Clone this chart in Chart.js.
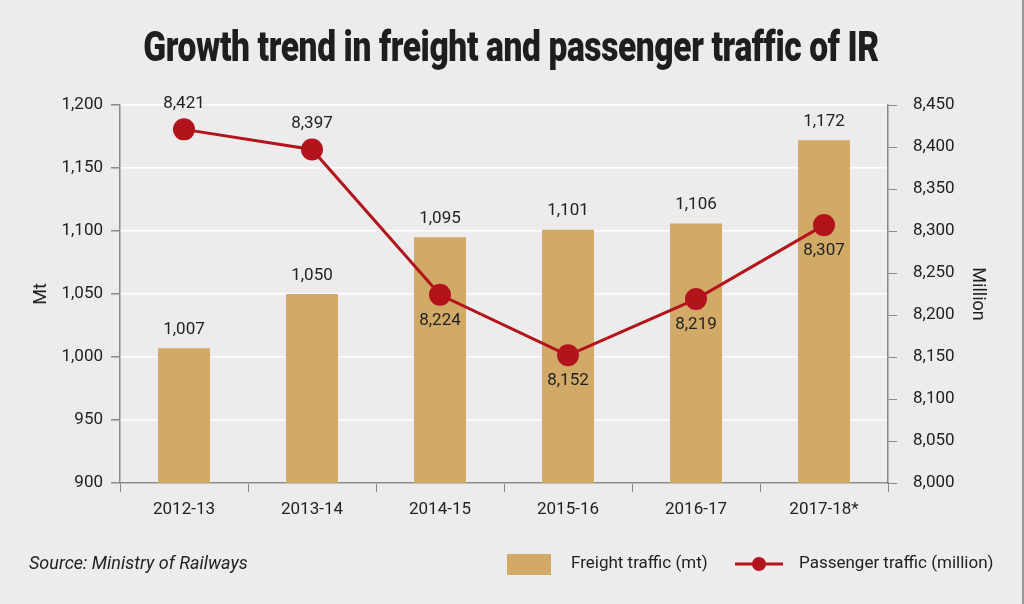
<!DOCTYPE html>
<html>
<head>
<meta charset="utf-8">
<script src="https://cdn.jsdelivr.net/npm/chart.js@4.4.1/dist/chart.umd.min.js"></script>
<style>
  html, body { margin: 0; padding: 0; background: #ececec; }
  #wrap { width: 1024px; height: 604px; position: relative; box-sizing: border-box; border-right: 2px solid #9a9a9a; }
  #title {
    position: absolute; left: 0; top: 21px; width: 1022px; margin: 0;
    text-align: center; font-family: Roboto, sans-serif; font-weight: 900;
    font-size: 43px; line-height: 50px; color: #1e1e1e; letter-spacing: -0.5px;
    transform: scaleX(0.78); transform-origin: 511px 0;
  }
</style>
</head>
<body>
<div id="wrap">
  <canvas id="trafficChart" width="1022" height="604"></canvas>
  <h1 id="title">Growth trend in freight and passenger traffic of IR</h1>
</div>
<script>
// Growth trend in freight and passenger traffic of IR
var years = ['2012-13', '2013-14', '2014-15', '2015-16', '2016-17', '2017-18*'];
var freight = [1007, 1050, 1095, 1101, 1106, 1172];      // mt
var passenger = [8421, 8397, 8224, 8152, 8219, 8307];    // million
var passengerLabelAbove = [true, true, false, false, false, false];

var FONT = "Roboto, sans-serif";
var BAR = '#d2aa68';
var RED = '#b3141c';
var AXIS = '#8a8a8a';

// value labels on bars and points
var valueLabels = {
    id: 'valueLabels',
    afterDatasetsDraw: function(chart) {
        var ctx = chart.ctx;
        ctx.save();
        ctx.font = '17px ' + FONT;
        ctx.fillStyle = '#222';
        ctx.textAlign = 'center';
        chart.getDatasetMeta(1).data.forEach(function(bar, i) {
            ctx.textBaseline = 'bottom';
            ctx.fillText(freight[i].toLocaleString('en-US'), bar.x, bar.y - 10);
        });
        chart.getDatasetMeta(0).data.forEach(function(pt, i) {
            var txt = passenger[i].toLocaleString('en-US');
            if (passengerLabelAbove[i]) {
                ctx.textBaseline = 'bottom';
                ctx.fillText(txt, pt.x, pt.y - 17);
            } else {
                ctx.textBaseline = 'top';
                ctx.fillText(txt, pt.x, pt.y + 17);
            }
        });
        ctx.restore();
    }
};

// source note and legend at the bottom
var footer = {
    id: 'footer',
    afterDraw: function(chart) {
        var ctx = chart.ctx;
        var y = 564;
        ctx.save();
        ctx.fillStyle = '#222';
        ctx.textBaseline = 'middle';
        ctx.textAlign = 'left';
        ctx.font = 'italic 18px ' + FONT;
        ctx.fillText('Source: Ministry of Railways', 29, y);

        ctx.font = '17px ' + FONT;
        ctx.fillStyle = BAR;
        ctx.fillRect(507, y - 10, 44, 21);
        ctx.fillStyle = '#222';
        ctx.fillText('Freight traffic (mt)', 571, y);

        ctx.strokeStyle = RED;
        ctx.lineWidth = 3;
        ctx.beginPath();
        ctx.moveTo(735, y);
        ctx.lineTo(783, y);
        ctx.stroke();
        ctx.fillStyle = RED;
        ctx.beginPath();
        ctx.arc(759, y, 7, 0, Math.PI * 2);
        ctx.fill();
        ctx.fillStyle = '#222';
        ctx.fillText('Passenger traffic (million)', 799, y);
        ctx.restore();
    }
};

var ctx = document.getElementById('trafficChart').getContext('2d');
var myChart = new Chart(ctx, {
    type: 'bar',
    data: {
        labels: years,
        datasets: [{
            type: 'line',
            label: 'Passenger traffic (million)',
            data: passenger,
            yAxisID: 'y1',
            borderColor: RED,
            backgroundColor: RED,
            borderWidth: 3,
            pointRadius: 11,
            pointBorderWidth: 0,
            tension: 0,
            order: 0
        }, {
            label: 'Freight traffic (mt)',
            data: freight,
            yAxisID: 'y',
            backgroundColor: BAR,
            barPercentage: 0.406,
            categoryPercentage: 1,
            order: 1
        }]
    },
    options: {
        responsive: false,
        animation: false,
        layout: { padding: { left: 0, right: 0, top: 105, bottom: 0 } },
        plugins: {
            legend: { display: false },
            tooltip: { enabled: false },
            title: { display: false }
        },
        scales: {
            x: {
                grid: { display: true, drawOnChartArea: false, offset: true, color: AXIS, tickLength: 9, lineWidth: 1 },
                border: { color: AXIS, width: 1.5 },
                ticks: { color: '#222', font: { family: FONT, size: 17 }, padding: 8 },
                afterFit: function(scale) { scale.height = 121; }
            },
            y: {
                position: 'left',
                min: 900,
                max: 1200,
                ticks: {
                    stepSize: 50,
                    color: '#222',
                    font: { family: FONT, size: 17 },
                    padding: 8,
                    callback: function(v) { return v.toLocaleString('en-US'); }
                },
                grid: { color: '#ffffff', lineWidth: 1.5, tickColor: AXIS, tickLength: 9 },
                border: { color: AXIS, width: 1.5 },
                title: {
                    display: true,
                    text: 'Mt',
                    color: '#222',
                    font: { family: FONT, size: 18 },
                    padding: { top: 31 }
                },
                afterFit: function(scale) { scale.width = 120; }
            },
            y1: {
                position: 'right',
                min: 8000,
                max: 8450,
                ticks: {
                    stepSize: 50,
                    color: '#222',
                    font: { family: FONT, size: 17 },
                    padding: 16,
                    callback: function(v) { return v.toLocaleString('en-US'); }
                },
                grid: { drawOnChartArea: false, color: AXIS, tickLength: 9 },
                border: { color: AXIS, width: 1.5 },
                title: {
                    display: true,
                    text: 'Million',
                    color: '#222',
                    font: { family: FONT, size: 18 },
                    padding: { top: 34 }
                },
                afterFit: function(scale) { scale.width = 134; }
            }
        }
    },
    plugins: [valueLabels, footer]
});
</script>
</body>
</html>
